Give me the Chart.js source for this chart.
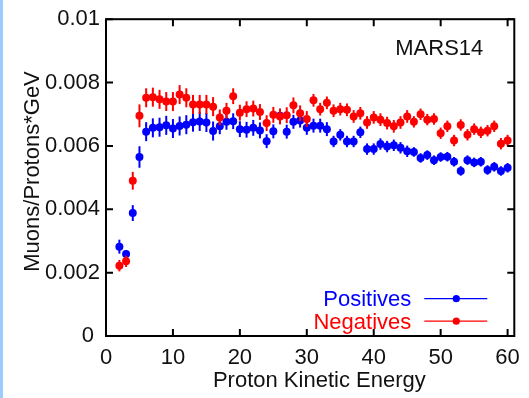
<!DOCTYPE html>
<html><head><meta charset="utf-8">
<script src="https://cdn.jsdelivr.net/npm/chart.js@4.4.1/dist/chart.umd.min.js"></script>
<style>
html,body{margin:0;padding:0;background:#fff;}
#wrap{position:relative;width:529px;height:398px;overflow:hidden;}
#stripe{position:absolute;left:0;top:0;width:3px;height:398px;background:#99ccff;}
canvas{position:absolute;left:0;top:0;}
</style></head><body>
<div id="wrap"><canvas id="c" width="529" height="398"></canvas><div id="stripe"></div></div>
<script>
const energies = [2,3,4,5,6,7,8,9,10,11,12,13,14,15,16,17,18,19,20,21,22,23,24,25,26,27,28,29,30,31,32,33,34,35,36,37,38,39,40,41,42,43,44,45,46,47,48,49,50,51,52,53,54,55,56,57,58,59,60];
const positives = [0.00282,0.00259,0.00388,0.00565,0.00645,0.00657,0.00659,0.00665,0.00655,
  0.00663,0.00667,0.00675,0.00677,0.00674,0.00647,0.00662,0.00676,0.00678,0.00653,
  0.00651,0.00657,0.00649,0.00615,0.00646,0.00695,0.00645,0.00676,0.00680,0.00657,
  0.00664,0.00664,0.00653,0.00614,0.00635,0.00614,0.00614,0.00643,0.00590,0.00590,
  0.00606,0.00598,0.00602,0.00594,0.00583,0.00581,0.00562,0.00571,0.00555,0.00565,
  0.00566,0.00550,0.00521,0.00555,0.00548,0.00550,0.00524,0.00534,0.00521,0.00531];
const negatives = [0.00222,0.00236,0.00490,0.00695,0.00752,0.00754,0.00747,0.00740,0.00740,
  0.00762,0.00752,0.00731,0.00731,0.00731,0.00724,0.00690,0.00711,0.00757,0.00705,
  0.00716,0.00718,0.00707,0.00672,0.00698,0.00693,0.00697,0.00728,0.00703,0.00685,
  0.00744,0.00716,0.00736,0.00711,0.00716,0.00714,0.00693,0.00703,0.00674,0.00690,
  0.00683,0.00672,0.00662,0.00674,0.00693,0.00676,0.00700,0.00683,0.00685,0.00640,
  0.00662,0.00617,0.00666,0.00635,0.00653,0.00643,0.00648,0.00662,0.00607,0.00617];
const posErrors = [0.00022,0.00012,0.00025,0.00034,0.0003,0.0003,0.0003,0.0003,0.0003,
  0.0003,0.0003,0.0003,0.0003,0.0003,0.0003,0.00025,0.00025,0.00025,0.00025,
  0.00025,0.00025,0.00025,0.00022,0.00022,0.00022,0.00022,0.00022,0.00022,0.00022,
  0.00022,0.00022,0.00022,0.00018,0.00018,0.00018,0.00018,0.00018,0.00018,0.00018,
  0.00018,0.00018,0.00018,0.00018,0.00018,0.00015,0.00015,0.00015,0.00015,0.00015,
  0.00015,0.00015,0.00015,0.00015,0.00015,0.00015,0.00015,0.00015,0.00015,0.00015];
const negErrors = [0.00018,0.00018,0.00028,0.00036,0.0003,0.0003,0.0003,0.0003,0.0003,
  0.0003,0.0003,0.0003,0.0003,0.0003,0.0003,0.00025,0.00025,0.00025,0.00025,
  0.00025,0.00025,0.00025,0.00025,0.00025,0.00025,0.00025,0.00025,0.00025,0.00025,
  0.0002,0.0002,0.0002,0.0002,0.0002,0.0002,0.0002,0.0002,0.0002,0.0002,
  0.0002,0.0002,0.0002,0.0002,0.0002,0.00018,0.00018,0.00018,0.00018,0.00018,
  0.00018,0.00018,0.00018,0.00018,0.00018,0.00018,0.00018,0.00018,0.00018,0.00018];
const xTickValues = [0,10,20,30,40,50,60];
const xTickLabels = ['0','10','20','30','40','50','60'];
const yTickValues = [0,0.002,0.004,0.006,0.008,0.01];
const yTickLabels = ['0 ','0.002','0.004','0.006','0.008','0.01'];
const seriesLabels = ['Positives','Negatives'];
const xTitle = '   Proton Kinetic Energy';
const yTitle = '  Muons/Protons*GeV';
const annotation = 'MARS14';

const FONT = '"Liberation Sans", Arial, Helvetica, sans-serif';
const BLUE = '#0000ff', RED = '#ff0000', INK = '#111111';

function pts(vals){ return energies.map((e,i)=>({x:e,y:vals[i]})); }

const errorBars = {
  id:'errorBars',
  beforeDatasetDraw(chart,args){
    const ds = chart.data.datasets[args.index];
    const ys = chart.scales.y, ctx = chart.ctx;
    ctx.save();
    ctx.strokeStyle = ds.backgroundColor; ctx.lineWidth = 2;
    args.meta.data.forEach((p,i)=>{
      const v = ds.data[i].y, e = ds.errors[i];
      ctx.beginPath();
      ctx.moveTo(p.x, ys.getPixelForValue(v-e));
      ctx.lineTo(p.x, ys.getPixelForValue(v+e));
      ctx.stroke();
    });
    ctx.restore();
  }
};

const frame = {
  id:'frame',
  afterDraw(chart){
    const {ctx, chartArea:a, scales:{x,y}} = chart;
    ctx.save();
    ctx.strokeStyle = '#000'; ctx.lineWidth = 2;
    ctx.strokeRect(a.left, a.top, a.right-a.left, a.bottom-a.top);
    const L = 7;
    ctx.beginPath();
    xTickValues.forEach(v=>{
      const px = x.getPixelForValue(v);
      ctx.moveTo(px,a.bottom); ctx.lineTo(px,a.bottom-L);
      ctx.moveTo(px,a.top); ctx.lineTo(px,a.top+L);
    });
    yTickValues.forEach(v=>{
      const py = y.getPixelForValue(v);
      ctx.moveTo(a.left,py); ctx.lineTo(a.left+L,py);
      ctx.moveTo(a.right,py); ctx.lineTo(a.right-L,py);
    });
    ctx.stroke();
    // annotation
    ctx.fillStyle = INK; ctx.font = '22px '+FONT;
    ctx.textAlign='left'; ctx.textBaseline='alphabetic';
    ctx.fillText(annotation, a.right-119, a.top+36);
    // legend
    const ds = chart.data.datasets;
    ds.forEach((d,i)=>{
      const yb = a.top + 287 + i*22.5;
      const yl = yb - 7.5;
      ctx.fillStyle = d.backgroundColor;
      ctx.textAlign='right';
      ctx.fillText(d.label, a.right-103, yb);
      ctx.strokeStyle = d.backgroundColor; ctx.lineWidth = 1.2;
      ctx.beginPath(); ctx.moveTo(a.right-90, yl); ctx.lineTo(a.right-27, yl); ctx.stroke();
      ctx.beginPath(); ctx.arc(a.right-58, yl, 3.6, 0, Math.PI*2); ctx.fill();
    });
    ctx.restore();
  }
};

new Chart(document.getElementById('c'), {
  type:'scatter',
  data:{datasets:[
    {label:seriesLabels[0], data:pts(positives), errors:posErrors, backgroundColor:BLUE, borderColor:BLUE, order:2},
    {label:seriesLabels[1], data:pts(negatives), errors:negErrors, backgroundColor:RED, borderColor:RED, order:1}
  ]},
  options:{
    responsive:false, animation:false, devicePixelRatio:1,
    layout:{padding:{left:0,right:10,top:16,bottom:2}},
    elements:{point:{radius:4,borderWidth:0,hoverRadius:4}},
    plugins:{legend:{display:false}, tooltip:{enabled:false}},
    scales:{
      x:{type:'linear', min:0, max:61,
        afterBuildTicks(s){ s.ticks = xTickValues.map(v=>({value:v})); },
        afterFit(s){ s.height = 60; },
        grid:{display:false, drawTicks:false}, border:{display:false},
        ticks:{padding:9, color:INK, font:{family:FONT,size:22}, maxRotation:0,
          callback(v){ const i = xTickValues.indexOf(v); return i>=0 ? xTickLabels[i] : ''; }},
        title:{display:true, text:xTitle, color:INK, font:{family:FONT,size:22}, padding:{top:0,bottom:2}}
      },
      y:{type:'linear', min:0, max:0.01,
        afterBuildTicks(s){ s.ticks = yTickValues.map(v=>({value:v})); },
        afterFit(s){ s.width = 106; },
        grid:{display:false, drawTicks:false}, border:{display:false},
        ticks:{padding:6, color:INK, font:{family:FONT,size:22},
          callback(v){ const i = yTickValues.findIndex(t=>Math.abs(t-v)<1e-9); return i>=0 ? yTickLabels[i] : ''; }},
        title:{display:true, text:yTitle, color:INK, font:{family:FONT,size:22}, padding:{top:20,bottom:0}}
      }
    }
  },
  plugins:[errorBars, frame]
});
</script></body></html>
